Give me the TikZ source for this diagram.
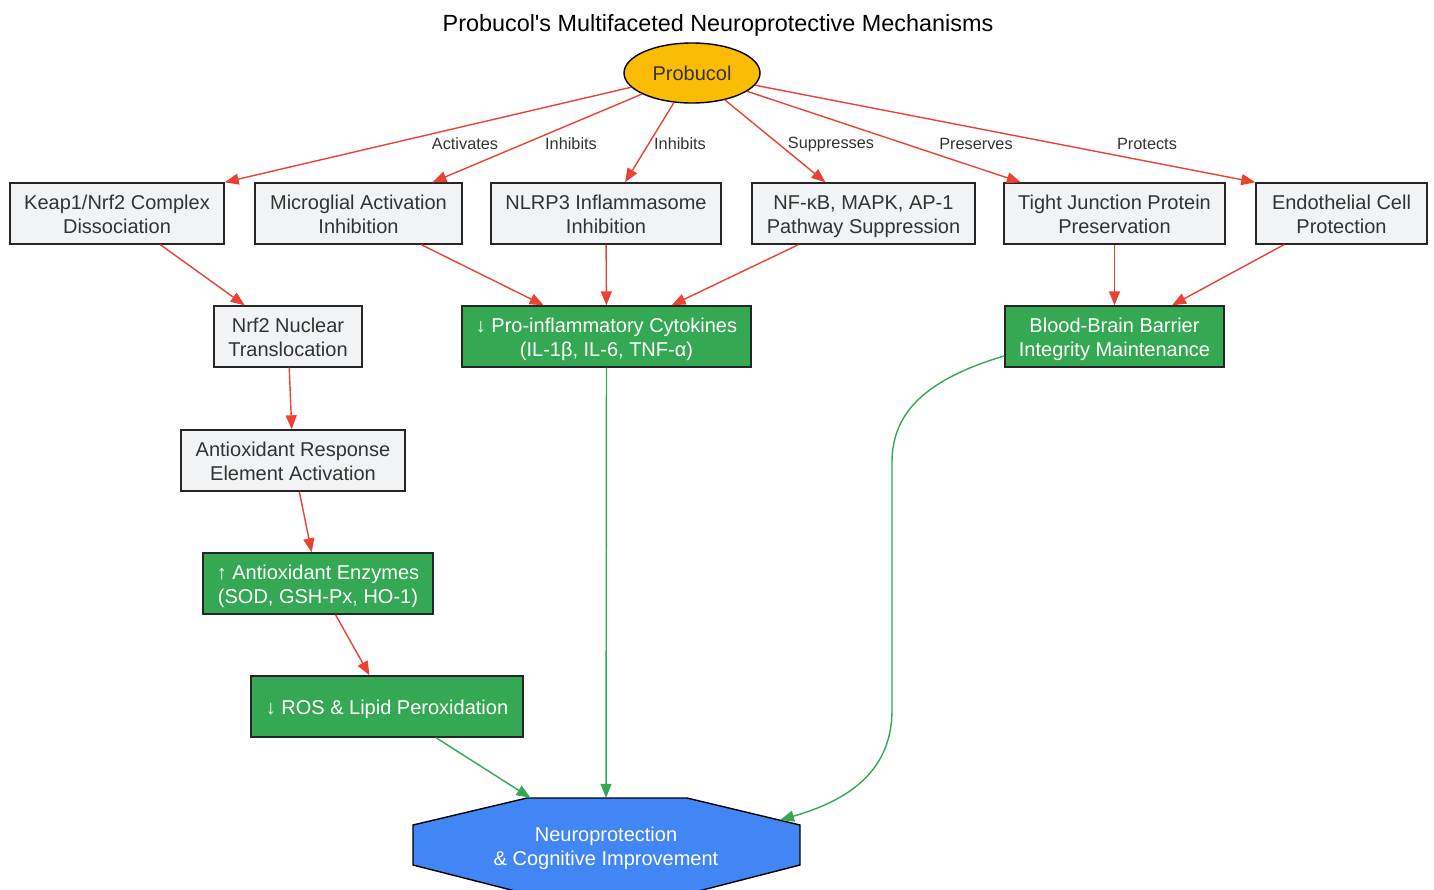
\documentclass[tikz,border=0pt]{standalone}
\usepackage{fontspec}
\setmainfont{Liberation Sans}
\newfontfamily\titlefont{Liberation Sans}
\usetikzlibrary{arrows.meta,calc,shapes.geometric}
\definecolor{redE}{HTML}{EA4335}
\definecolor{greenE}{HTML}{34A853}
\definecolor{blueN}{HTML}{4285F4}
\definecolor{yellowN}{HTML}{FBBC05}
\definecolor{grayN}{HTML}{F1F3F4}
\definecolor{txt}{HTML}{333333}
\newcommand\mystrut{\rule[-4.5pt]{0pt}{24pt}}
\begin{document}
\begin{tikzpicture}[x=1pt,y=-1pt,
  nodetext/.style={font=\fontsize{20}{24}\selectfont},
  base/.style={rectangle, draw=black!85, line width=1.4pt, align=center,
    nodetext, inner sep=0pt, minimum height=61pt},
  graybox/.style={base, fill=grayN, text=txt},
  greenbox/.style={base, fill=greenE, text=white},
  redarrow/.style={draw=redE, line width=1.4pt, -{Triangle[length=14pt,width=11pt]}},
  greenarrow/.style={draw=greenE, line width=1.4pt, -{Triangle[length=14pt,width=11pt]}},
  elabel/.style={font=\fontsize{16.3}{19}\selectfont, text=txt, inner sep=0pt}]
\useasboundingbox (0,0) rectangle (1434,889);
\clip (0,0) rectangle (1434,889);
\fill[white] (0,0) rectangle (1434,889);

\node[font=\titlefont\fontsize{23.4}{28}\selectfont, text=black, inner sep=0pt] (title) at (718,25.5) {Probucol's Multifaceted Neuroprotective Mechanisms};

\node[ellipse, draw=black, line width=1.4pt, fill=yellowN, text=txt, minimum width=136pt, minimum height=60pt, inner sep=0pt, nodetext] (prob) at (692,73) {\mystrut Probucol\mystrut};

\node[graybox, minimum width=214pt] (keap) at (117,213.5) {\mystrut Keap1/Nrf2 Complex\\Dissociation\mystrut};
\node[graybox, minimum width=207pt] (micro) at (358.5,213.5) {\mystrut Microglial Activation\\Inhibition\mystrut};
\node[graybox, minimum width=230pt] (nlrp) at (606,213.5) {\mystrut NLRP3 Inflammasome\\Inhibition\mystrut};
\node[graybox, minimum width=223pt] (nfkb) at (863.5,213.5) {\mystrut NF-κB, MAPK, AP-1\\Pathway Suppression\mystrut};
\node[graybox, minimum width=221pt] (tj) at (1114.5,213.5) {\mystrut Tight Junction Protein\\Preservation\mystrut};
\node[graybox, minimum width=171pt] (endo) at (1341.5,213.5) {\mystrut Endothelial Cell\\Protection\mystrut};

\node[graybox, minimum width=148pt] (nrf2) at (288,336.5) {\mystrut Nrf2 Nuclear\\Translocation\mystrut};
\node[greenbox, minimum width=289pt] (pro) at (606.5,336.5) {\mystrut ↓ Pro-inflammatory Cytokines\\(IL-1β, IL-6, TNF-α)\mystrut};
\node[greenbox, minimum width=219pt] (bbb) at (1114.5,336.5) {\mystrut Blood-Brain Barrier\\Integrity Maintenance\mystrut};
\node[graybox, minimum width=224pt] (are) at (293,460.5) {\mystrut Antioxidant Response\\Element Activation\mystrut};
\node[greenbox, minimum width=230pt] (ae) at (318,583.5) {\mystrut ↑ Antioxidant Enzymes\\(SOD, GSH-Px, HO-1)\mystrut};
\node[greenbox, minimum width=272pt] (ros) at (387,706.5) {\mystrut ↓ ROS \& Lipid Peroxidation\mystrut};

\coordinate (nc) at (606,846);
\draw[fill=blueN, draw=black, line width=1.4pt]
  ($(nc)+(-79,-48)$) -- ($(nc)+(81,-48)$) -- ($(nc)+(194,-21)$) -- ($(nc)+(194,19)$)
  -- ($(nc)+(81,48)$) -- ($(nc)+(-79,48)$) -- ($(nc)+(-193,19)$) -- ($(nc)+(-193,-21)$) -- cycle;
\node[rectangle, minimum width=387pt, minimum height=96pt, inner sep=0pt, align=center, text=white,
  nodetext] (neuro) at (nc) {\mystrut Neuroprotection\\\& Cognitive Improvement\mystrut};
\coordinate (oe) at ($(nc)+(174,-26)$);

\draw[redarrow] (prob) -- (keap.north east);
\draw[redarrow] (prob) -- (micro);
\draw[redarrow] (prob) -- (nlrp);
\draw[redarrow] (prob) -- (nfkb);
\draw[redarrow] (prob) -- (tj);
\draw[redarrow] (prob) -- (endo.north west);

\node[elabel] (l1) at (465,144) {Activates};
\node[elabel] (l2) at (571,144) {Inhibits};
\node[elabel] (l3) at (680,144) {Inhibits};
\node[elabel] (l4) at (831,144) {Suppresses};
\node[elabel] (l5) at (976,144) {Preserves};
\node[elabel] (l6) at (1147,144) {Protects};

\draw[redarrow] (keap) -- (nrf2);
\draw[redarrow] (micro) -- (pro);
\draw[redarrow] (nlrp) -- (pro);
\draw[redarrow] (nfkb) -- (pro);
\draw[redarrow] (tj) -- (bbb);
\draw[redarrow] (endo) -- (bbb);
\draw[redarrow] (nrf2) -- (are);
\draw[redarrow] (are) -- (ae);
\draw[redarrow] (ae) -- (ros);

\draw[greenarrow] (ros) -- (neuro);
\draw[greenarrow] (pro) -- (neuro);
\draw[greenarrow] (bbb.190) .. controls (930,378) and (892,410) .. (892,462)
  -- (892,710) .. controls (892,770) and (850,800) .. (oe);
\end{tikzpicture}
\end{document}
